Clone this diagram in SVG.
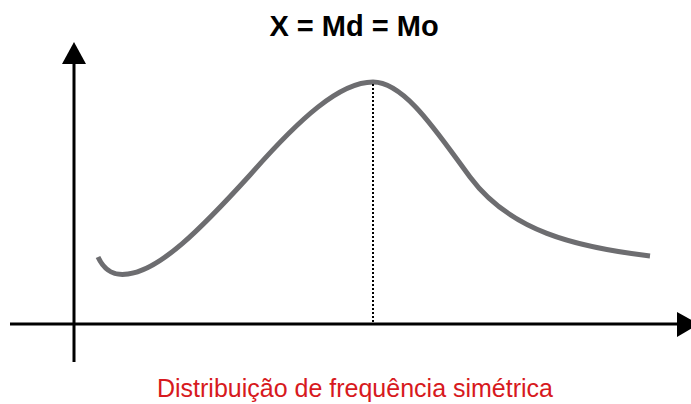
<svg xmlns="http://www.w3.org/2000/svg" width="691" height="404" viewBox="0 0 691 404">
<style>
.axis{stroke:#000;stroke-width:3;fill:none}
.head{fill:#000}
.curve{stroke:#6d6d70;stroke-width:5;fill:none;stroke-linecap:butt}
.guide{stroke:#000;stroke-width:2;stroke-dasharray:2 2;fill:none}
.title{font-family:"Liberation Sans",Arial,sans-serif;font-weight:bold;font-size:29px;fill:#000}
.caption{font-family:"Liberation Sans",Arial,sans-serif;font-size:25px;fill:#d71920}
</style>
<rect width="691" height="404" fill="#fff"/>
<g id="axes">
<line class="axis" x1="74" y1="60" x2="74" y2="362"/>
<polygon class="head" points="74,42 62,64 86,64"/>
<line class="axis" x1="10" y1="324" x2="680" y2="324"/>
<polygon class="head" points="699,324 677,312 677,337"/>
</g>
<g id="curve">
<path class="curve" d="M98,257 C105,272 115,276 128,274 C160,270 200,230 250,175 C300,118 340,82 373,82 C405,82 438,134 470,177 C510,231 575,247 650,256"/>
</g>
<g id="median">
<line class="guide" x1="373" y1="84" x2="373" y2="322"/>
</g>
<g id="labels">
<text class="title" x="354" y="36" text-anchor="middle">X = Md = Mo</text>
<text class="caption" x="355" y="397" text-anchor="middle">Distribuição de frequência simétrica</text>
</g>
</svg>
